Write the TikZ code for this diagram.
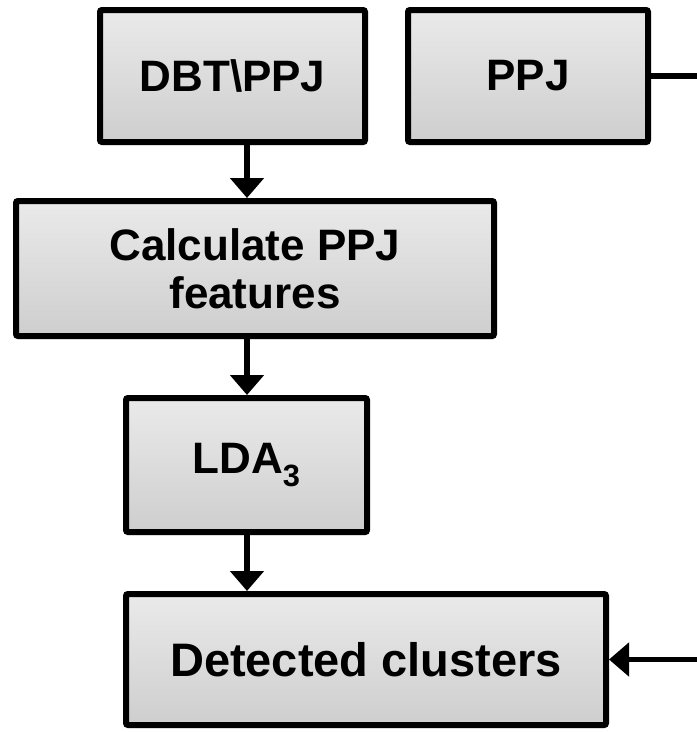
\documentclass[tikz,border=0pt]{standalone}
\usepackage{fontspec}
\setmainfont{Liberation Sans}
\usetikzlibrary{arrows.meta,shadows}
\begin{document}
\begin{tikzpicture}[x=1pt,y=-1pt,
  blk/.style={draw=black, line width=6pt, rounded corners=2pt,
    top color={rgb,255:red,234;green,234;blue,234},
    bottom color={rgb,255:red,206;green,206;blue,206},
    drop shadow={opacity=0.25, shadow xshift=2pt, shadow yshift=-3pt},
    inner sep=0pt, align=center,
    font=\fontsize{44}{48}\selectfont\bfseries},
  conn/.style={line width=5.5pt, -{Triangle[length=20pt,width=33pt]}},
  plain/.style={line width=5.5pt}]
\useasboundingbox (0,0) rectangle (697,732);
\clip (0,0) rectangle (697,732);
\node[blk, minimum width=265pt, minimum height=132pt] (dbt) at (232.5,76) {DBT\textbackslash PPJ};
\node[blk, minimum width=240pt, minimum height=132pt] (ppj) at (528,76) {PPJ};
\node[blk, minimum width=478pt, minimum height=135pt] (calc) at (255,268.5) {Calculate PPJ\\features};
\node[blk, minimum width=241pt, minimum height=134pt] (lda) at (246.5,465) {LDA\textsubscript{3}};
\node[blk, minimum width=480pt, minimum height=131pt, font=\fontsize{47}{52}\selectfont\bfseries] (det) at (366,659.5) {Detected clusters};
\coordinate (ax) at (247,0);
\coordinate (rt) at (720,0);
\draw[conn] (dbt.south -| ax) -- (calc.north -| ax);
\draw[conn] (calc.south -| ax) -- (lda.north -| ax);
\draw[conn] (lda.south -| ax) -- (det.north -| ax);
\draw[conn] (ppj.east) -- (ppj.east -| rt) |- (det.east);
\end{tikzpicture}
\end{document}
